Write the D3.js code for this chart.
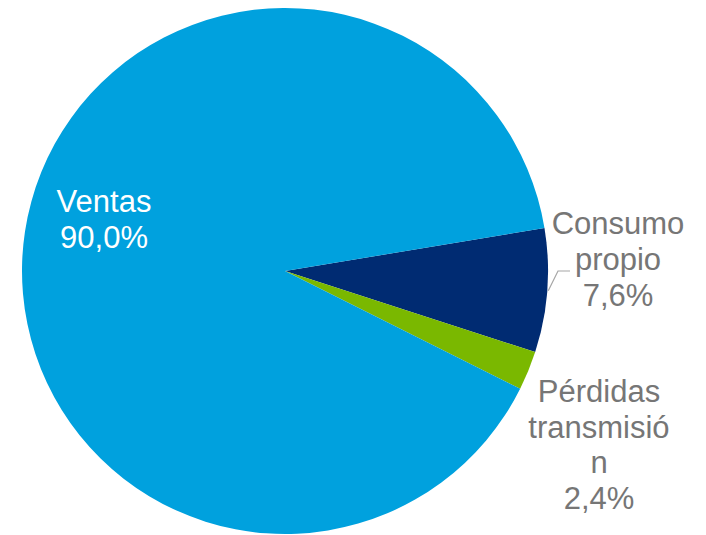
<!DOCTYPE html>
<html>
<head>
<meta charset="utf-8">
<script src="https://cdn.jsdelivr.net/npm/d3@7"></script>
<style>
  html, body { margin: 0; padding: 0; background: #fff; }
  svg { display: block; }
  text { font-family: "Liberation Sans", Arial, sans-serif; }
</style>
</head>
<body>
<svg id="chart" width="706" height="535"></svg>
<script>
// Shares of energy use (percent)
const categories = ["Consumo propio", "Pérdidas transmisión", "Ventas"];
const values = [7.6, 2.4, 90.0];
const colors = ["#002B72", "#7AB800", "#00A1DE"];
// Label lines for each slice
const labelLines = [["Consumo", "propio", "7,6%"], ["Pérdidas", "transmisió", "n", "2,4%"], ["Ventas", "90,0%"]];

const width = 706, height = 535;
const cx = 285, cy = 271, radius = 263;
const startDeg = 80.6;

const svg = d3.select("#chart");
const g = svg.append("g").attr("transform", `translate(${cx},${cy})`);

const pie = d3.pie()
  .sort(null)
  .value(d => d)
  .startAngle(startDeg * Math.PI / 180)
  .endAngle((startDeg + 360) * Math.PI / 180);

const arcs = pie(values);
const arc = d3.arc().innerRadius(0).outerRadius(radius);

g.selectAll("path.slice")
  .data(arcs)
  .join("path")
  .attr("class", "slice")
  .attr("d", arc)
  .attr("fill", (d, i) => colors[i]);

// Leader line for the "Consumo propio" label
const a0 = (arcs[0].startAngle + arcs[0].endAngle) / 2;
const px = Math.sin(a0) * (radius + 1), py = -Math.cos(a0) * (radius + 1);
g.append("path")
  .attr("d", `M${px},${py} L${273},${0} L${285},${0}`)
  .attr("fill", "none")
  .attr("stroke", "#A6A6A6")
  .attr("stroke-width", 1.2);

// Label blocks: center x and first baseline in page coordinates
const labelPos = [
  { x: 618, y: 234, step: 36, fill: "#767676" },
  { x: 599, y: 402, step: 35.5, fill: "#767676" },
  { x: 104, y: 212, step: 35.5, fill: "#FFFFFF" }
];

labelLines.forEach((lines, i) => {
  const p = labelPos[i];
  const t = svg.append("text")
    .attr("text-anchor", "middle")
    .attr("font-size", 31)
    .attr("fill", p.fill);
  lines.forEach((ln, j) => {
    t.append("tspan").attr("x", p.x).attr("y", p.y + j * p.step).text(ln);
  });
});
</script>
</body>
</html>
